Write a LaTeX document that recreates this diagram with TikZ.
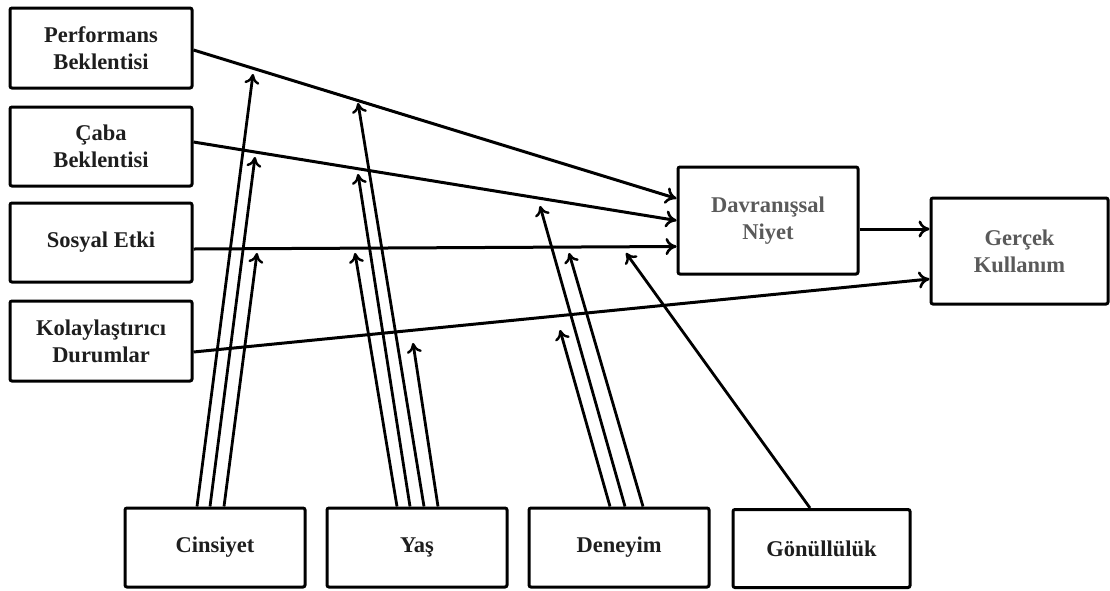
\documentclass[tikz,border=0pt]{standalone}
\usepackage{fontspec}
\setmainfont{Liberation Serif}
\usetikzlibrary{arrows.meta,calc}
\definecolor{txt}{HTML}{1E1E1E}
\definecolor{gtxt}{HTML}{5A5A5A}
\begin{document}
\begin{tikzpicture}[x=1pt,y=-1pt,
  box/.style={draw=black, line width=3pt, rounded corners=2pt, align=center,
    font=\bfseries\fontsize{22.5}{27}\selectfont, text=txt, inner sep=0pt},
  gbox/.style={box, text=gtxt},
  conn/.style={line width=3pt, -{Computer Modern Rightarrow[length=11pt,width=17pt,line width=2.6pt]}},
  modarrow/.style={line width=2.8pt, -{Computer Modern Rightarrow[length=10pt,width=15pt,line width=2.4pt]}}
]
\useasboundingbox (0,0) rectangle (1110,590);

% left boxes
\node[box, minimum width=182pt, minimum height=80pt] (perf) at (101,48) {Performans\\Beklentisi};
\node[box, minimum width=182pt, minimum height=79pt] (caba) at (101,146.5) {Çaba\\Beklentisi};
\node[box, minimum width=182pt, minimum height=79pt] (sosyal) at (101,242.5) {Sosyal Etki};
\node[box, minimum width=182pt, minimum height=80pt] (kolay) at (101,341) {Kolaylaştırıcı\\Durumlar};

% right boxes
\node[gbox, minimum width=180pt, minimum height=107pt] (niyet) at (768,220.5) {Davranışsal\\Niyet};
\node[gbox, minimum width=177pt, minimum height=106pt] (gercek) at (1019.5,251) {Gerçek\\Kullanım};

% bottom boxes
\node[box, minimum width=180pt, minimum height=79pt] (cins) at (215,547.5) {Cinsiyet};
\node[box, minimum width=180pt, minimum height=79pt] (yas) at (417,547.5) {Yaş};
\node[box, minimum width=180pt, minimum height=79pt] (den) at (619,547.5) {Deneyim};
\node[box, minimum width=177pt, minimum height=78pt] (gon) at (821.5,548.5) {Gönüllülük};

% main connectors
\draw[conn] ($(perf.east)+(0,2)$) -- ($(niyet.west)+(0,-22)$);
\draw[conn] ($(caba.east)+(0,-4.5)$) -- (niyet.west);
\draw[conn] ($(sosyal.east)+(0,6.5)$) -- ($(niyet.west)+(0,26)$);
\draw[conn] ($(kolay.east)+(0,11)$) -- ($(gercek.west)+(0,28)$);
\draw[conn] ($(niyet.east)+(0,8.5)$) -- ($(gercek.west)+(0,-22)$);

% moderator arrow tips
\coordinate (cP) at (253,74);
\coordinate (cC) at (255,157);
\coordinate (cS) at (257,253);
\coordinate (yS) at (355,253);
\coordinate (yC) at (358,174);
\coordinate (yP) at (358,103);
\coordinate (yK) at (413,343);
\coordinate (dK) at (560,330);
\coordinate (dC) at (540,206);
\coordinate (dS) at (569,253);
\coordinate (gS) at (626,253);

% Cinsiyet
\draw[modarrow] ($(cins.north)+(-18,0)$) -- (cP);
\draw[modarrow] ($(cins.north)+(-5,0)$) -- (cC);
\draw[modarrow] ($(cins.north)+(9,0)$) -- (cS);
% Yas
\draw[modarrow] ($(yas.north)+(-20,0)$) -- (yS);
\draw[modarrow] ($(yas.north)+(-7,0)$) -- (yC);
\draw[modarrow] ($(yas.north)+(7,0)$) -- (yP);
\draw[modarrow] ($(yas.north)+(21,0)$) -- (yK);
% Deneyim
\draw[modarrow] ($(den.north)+(-9,0)$) -- (dK);
\draw[modarrow] ($(den.north)+(6,0)$) -- (dC);
\draw[modarrow] ($(den.north)+(24,0)$) -- (dS);
% Gonulluluk
\draw[modarrow] ($(gon.north)+(-11.5,0)$) -- (gS);
\end{tikzpicture}
\end{document}
